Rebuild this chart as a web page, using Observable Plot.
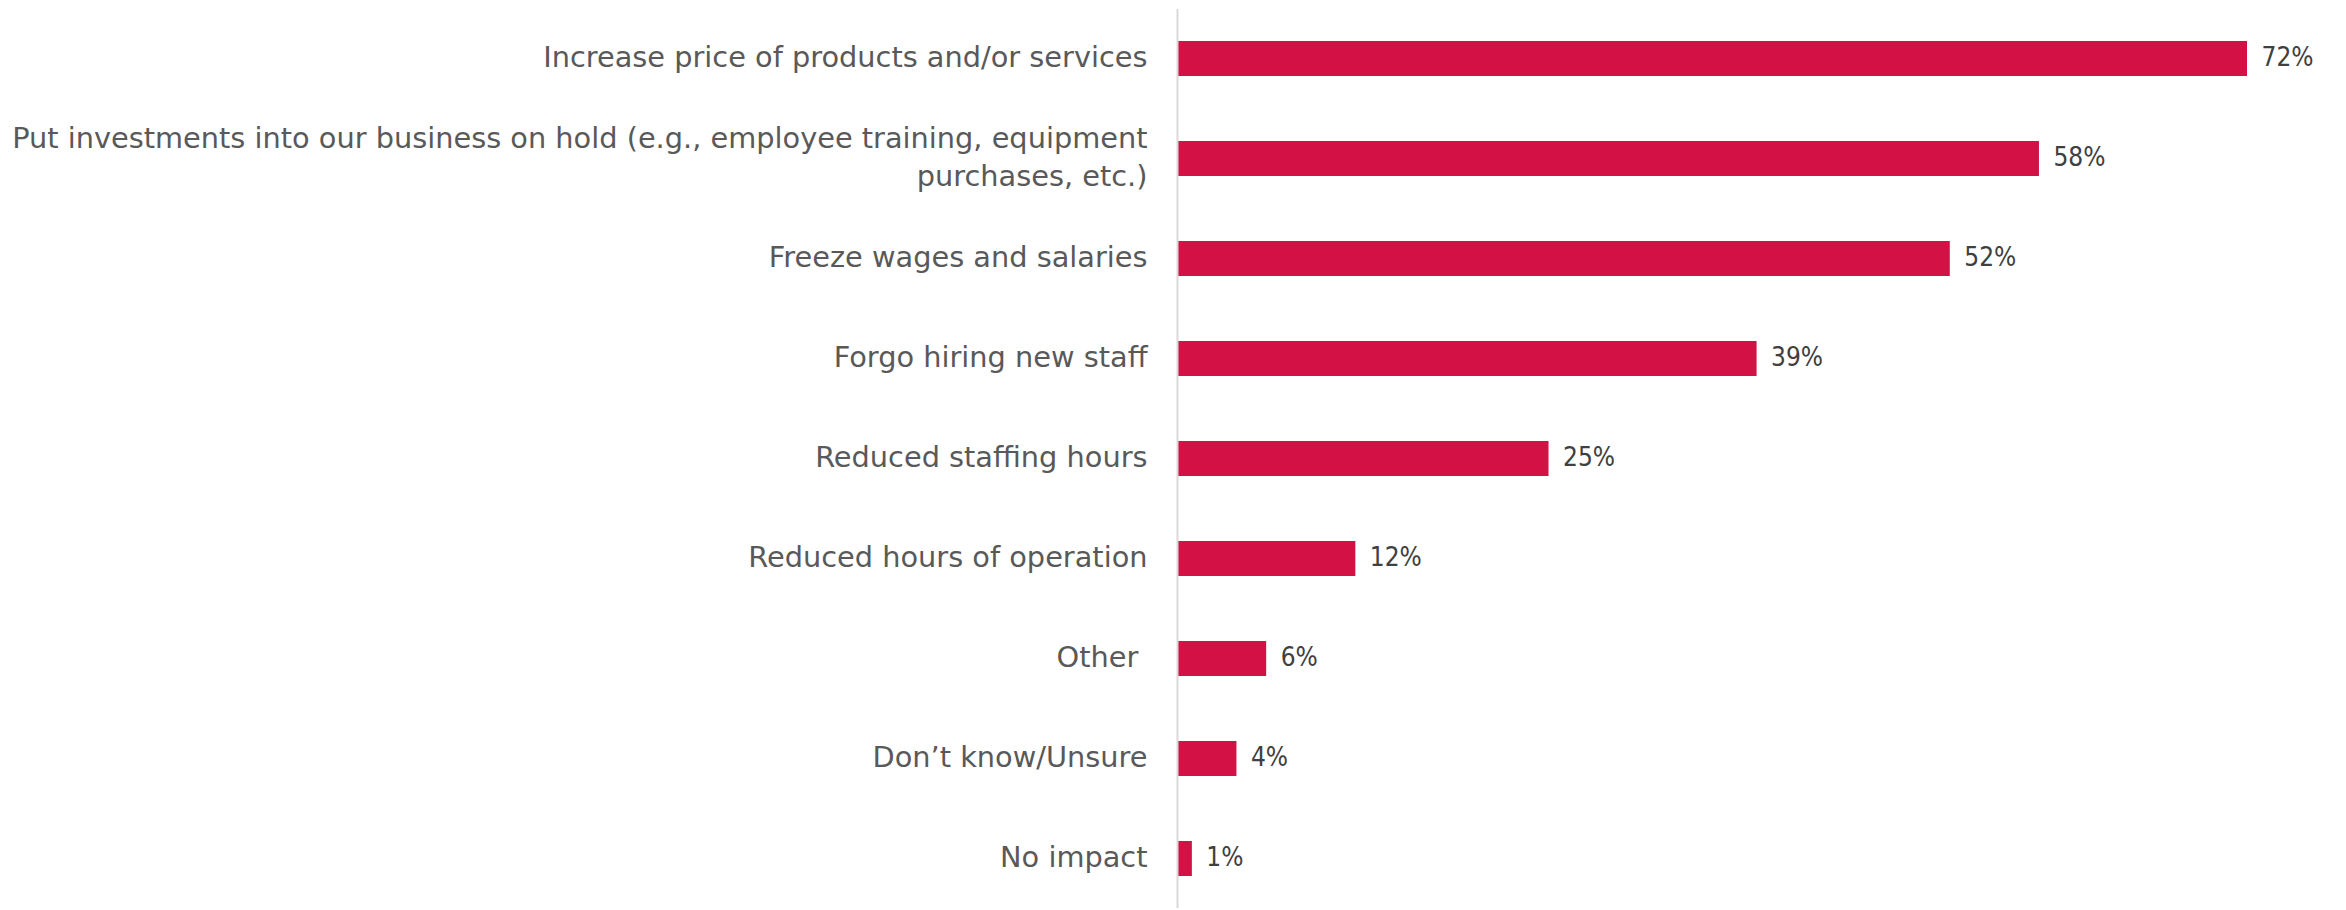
<!DOCTYPE html>
<html>
<head>
<meta charset="utf-8">
<script src="https://cdn.jsdelivr.net/npm/d3@7"></script>
<script src="https://cdn.jsdelivr.net/npm/@observablehq/plot@0.6"></script>
<style>
  html, body { margin: 0; padding: 0; background: #fff; overflow: hidden; }
</style>
</head>
<body>
<div id="chart"></div>
<script>
const categories = [
  "Increase price of products and/or services",
  "Put investments into our business on hold (e.g., employee training, equipment\npurchases, etc.)",
  "Freeze wages and salaries",
  "Forgo hiring new staff",
  "Reduced staffing hours",
  "Reduced hours of operation",
  "Other ",
  "Don\u2019t know/Unsure",
  "No impact"
];
const values = [72, 58, 52, 39, 25, 12, 6, 4, 1];

const data = categories.map((c, i) => ({category: c, value: values[i]}));

const chart = Plot.plot({
  width: 2346,
  height: 910,
  marginLeft: 1177,
  marginRight: 99,
  marginTop: 9,
  marginBottom: 2,
  style: {fontFamily: "'DejaVu Sans Condensed', 'DejaVu Sans', sans-serif", background: "#fff"},
  x: {domain: [0, 72], axis: null},
  y: {domain: categories, paddingInner: 0.65, paddingOuter: 0.3, label: null},
  marks: [
    Plot.barX(data, {x: "value", y: "category", fill: "#d31145"}),
    Plot.ruleX([0], {stroke: "#d9d9d9", strokeWidth: 2}),
    Plot.axisY({
      tickSize: 0,
      tickPadding: 30,
      dy: -4,
      fontSize: 28.8,
      fontFamily: "'DejaVu Sans', sans-serif",
      fill: "#595959",
      lineHeight: 1.3,
      label: null
    }),
    Plot.text(data, {
      x: "value",
      y: "category",
      text: d => d.value + "%",
      textAnchor: "start",
      dx: 14,
      dy: -1,
      fontSize: 26,
      fill: "#404040"
    })
  ]
});
document.getElementById("chart").appendChild(chart);
</script>
</body>
</html>
